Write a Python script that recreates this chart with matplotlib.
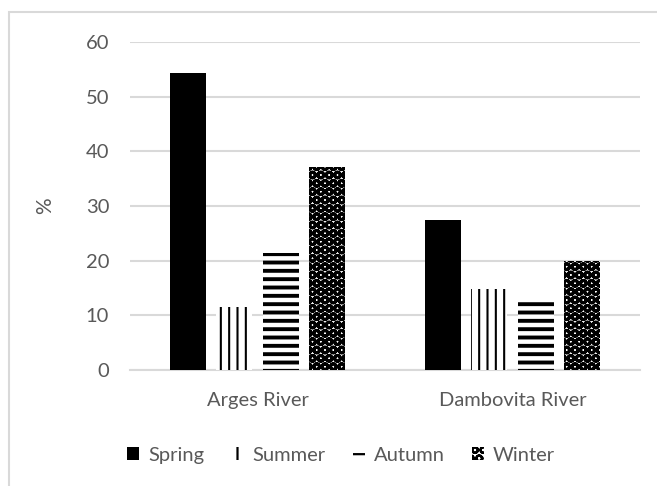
import matplotlib
matplotlib.use("Agg")
import matplotlib.pyplot as plt
import numpy as np
from matplotlib.patches import Rectangle

categories = ["Arges River", "Dambovita River"]
seasons = ["Spring", "Summer", "Autumn", "Winter"]
spring = [54.4, 27.4]
summer = [11.6, 14.8]
autumn = [21.4, 13.2]
winter = [37.1, 20.0]
yticks = [0, 10, 20, 30, 40, 50, 60]

plt.rcParams['font.family'] = ['Lato', 'DejaVu Sans']
gray = '#595959'

fig = plt.figure(figsize=(6.57, 4.86), dpi=100)
ax = fig.add_axes([130/657, 1-370/486, 510/657, 328/486])

x = np.arange(len(categories))
w = 0.142
off = 0.182
styles = [
    dict(color='black', hatch=None, lw=1.0),
    dict(color='white', hatch='||', lw=1.5),
    dict(color='white', hatch='--', lw=2.8),
    dict(color='white', hatch='OO', lw=2.15),
]
series = [spring, summer, autumn, winter]
for i, (vals, st) in enumerate(zip(series, styles)):
    with plt.rc_context({'hatch.linewidth': st['lw']}):
        bars = ax.bar(x + (i-1.5)*off, vals, width=w, color=st['color'],
                      edgecolor='black', linewidth=0, hatch=st['hatch'],
                      label=seasons[i], zorder=3)
        for b in bars:
            if hasattr(b, 'set_hatch_linewidth'):
                b.set_hatch_linewidth(st['lw'])

ax.set_xlim(-0.5, 1.5)
ax.set_ylim(0, 60)
ax.set_yticks(yticks)
ax.set_xticks(x)
ax.set_xticklabels(categories)
ax.tick_params(axis='both', length=0, labelsize=14.5, colors=gray)
ax.tick_params(axis='y', pad=15)
ax.tick_params(axis='x', pad=16)
for s in ['top', 'right', 'left']:
    ax.spines[s].set_visible(False)
ax.spines['bottom'].set_color('#d9d9d9')
ax.spines['bottom'].set_linewidth(1.5)
ax.yaxis.grid(True, color='#d9d9d9', linewidth=1.5, zorder=0)
ax.set_axisbelow(True)
ax.set_ylabel('%', fontsize=15, color=gray)
ax.yaxis.set_label_coords((55 - 130) / 510, 0.5)

with plt.rc_context({'hatch.linewidth': 1.6}):
    leg = fig.legend(loc='center', bbox_to_anchor=(341/657, 1-455/486), ncol=4,
                     frameon=False, fontsize=14.5, labelcolor=gray,
                     handlelength=0.6, handleheight=0.6, handletextpad=0.45,
                     columnspacing=1.35)

# outer chart border
fig.add_artist(Rectangle((9/657, -0.1), 1.2, 1 - 12/486 + 0.1, transform=fig.transFigure,
                         fill=False, edgecolor='#d9d9d9', linewidth=1.5))

fig.savefig('out.png', dpi=100)
